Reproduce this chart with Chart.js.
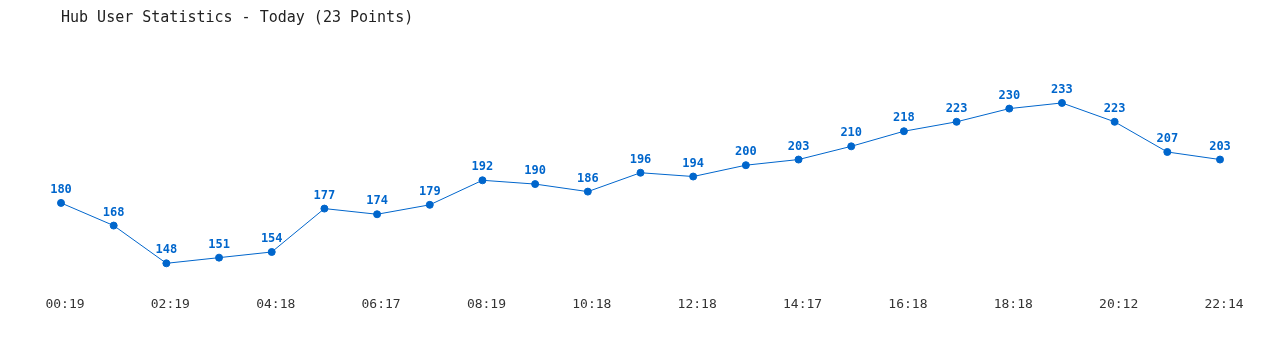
<!DOCTYPE html>
<html>
<head>
<meta charset="utf-8">
<script src="https://cdn.jsdelivr.net/npm/chart.js@4"></script>
<style>
  html, body { margin: 0; padding: 0; background: #fff; }
  #wrap { width: 1280px; height: 350px; }
</style>
</head>
<body>
<div id="wrap"><canvas id="hubChart"></canvas></div>
<script>
const times = ['00:19', '01:19', '02:19', '03:18', '04:18', '05:18', '06:17', '07:18',
    '08:19', '09:18', '10:18', '11:18', '12:18', '13:18', '14:17', '15:18',
    '16:18', '17:18', '18:18', '19:18', '20:12', '21:13', '22:14'];
const users = [180, 168, 148, 151, 154, 177, 174, 179, 192, 190, 186, 196,
    194, 200, 203, 210, 218, 223, 230, 233, 223, 207, 203];

const blue = '#0066cc';
const mono = "'DejaVu Sans Mono', 'Liberation Mono', monospace";

// draws the value above each point
const pointLabels = {
    id: 'pointLabels',
    afterDatasetsDraw(chart) {
        const ctx = chart.ctx;
        const meta = chart.getDatasetMeta(0);
        ctx.save();
        ctx.font = 'bold 12px ' + mono;
        ctx.fillStyle = blue;
        ctx.textAlign = 'center';
        ctx.textBaseline = 'middle';
        meta.data.forEach((pt, i) => {
            ctx.fillText(String(users[i]), pt.x, pt.y - 13);
        });
        ctx.restore();
    }
};

window.onload = function () {
    const ctx = document.getElementById('hubChart').getContext('2d');

    new Chart(ctx, {
        type: 'line',
        data: {
            labels: times,
            datasets: [{
                data: users,
                borderColor: blue,
                backgroundColor: blue,
                borderWidth: 1,
                pointRadius: 3.5,
                pointHoverRadius: 3.5,
                tension: 0
            }]
        },
        options: {
            responsive: true,
            maintainAspectRatio: false,
            animation: false,
            layout: {
                padding: { left: 61, right: 60, top: 0, bottom: 20 }
            },
            plugins: {
                legend: { display: false },
                tooltip: { enabled: false },
                title: {
                    display: true,
                    text: 'Hub User Statistics - Today (23 Points)',
                    align: 'start',
                    color: '#222',
                    font: { family: mono, size: 15, weight: 'normal', lineHeight: 1.2 },
                    padding: { top: 9, bottom: 25 }
                }
            },
            scales: {
                x: {
                    offset: false,
                    grid: { display: false, drawTicks: false },
                    border: { display: false },
                    ticks: {
                        autoSkip: false,
                        maxRotation: 0,
                        padding: 18,
                        labelOffset: 4,
                        color: '#333',
                        font: { family: mono, size: 13 },
                        callback: function (v, i) { return i % 2 === 0 ? times[i] : ''; }
                    }
                },
                y: {
                    display: false,
                    min: 140,
                    max: 260
                }
            }
        },
        plugins: [pointLabels]
    });
};
</script>
</body>
</html>
